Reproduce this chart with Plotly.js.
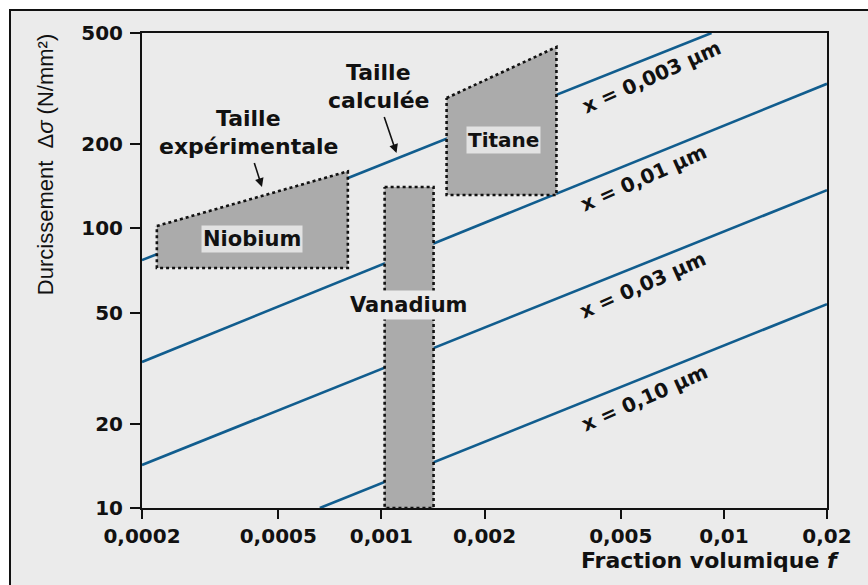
<!DOCTYPE html>
<html>
<head>
<meta charset="utf-8">
<script src="https://cdn.plot.ly/plotly-3.0.1.min.js"></script>
<style>
  html, body { margin: 0; padding: 0; background: #ffffff; }
  #frame { position: absolute; left: 9px; top: 9px; width: 870px; height: 590px;
           border-top: 2.5px solid #111; border-left: 2.5px solid #111; background: #ebebeb; }
  #plot { position: absolute; left: 0; top: 0; width: 868px; height: 585px; }
</style>
</head>
<body>
<div id="frame"></div>
<div id="plot"></div>
<script>
// ---- data ----
const lineNames = ["x = 0,003 µm", "x = 0,01 µm", "x = 0,03 µm", "x = 0,10 µm"];
const line003F = [0.0002, 0.0092];
const line003Y = [77, 500];
const line001F = [0.0002, 0.02];
const line001Y = [33.3, 329];
const line03F = [0.0002, 0.02];
const line03Y = [14.25, 137];
const line10F = [0.000661, 0.02];
const line10Y = [10, 53.6];

const niobiumF = [0.000221, 0.000798, 0.000798, 0.000221, 0.000221];
const niobiumY = [102, 160, 72.2, 72.2, 102];
const vanadiumF = [0.001022, 0.00142, 0.00142, 0.001022, 0.001022];
const vanadiumY = [140.6, 140.6, 10, 10, 140.6];
const titaneF = [0.00155, 0.003244, 0.003244, 0.00155, 0.00155];
const titaneY = [292.7, 445.5, 131.7, 131.7, 292.7];

const xTickVals = [0.0002, 0.0005, 0.001, 0.002, 0.005, 0.01, 0.02];
const xTickText = ["0,0002", "0,0005", "0,001", "0,002", "0,005", "0,01", "0,02"];
const yTickVals = [10, 20, 50, 100, 200, 500];
const yTickText = ["10", "20", "50", "100", "200", "500"];

// ---- styles ----
const lineColor = "#115d8e";
const boxFill = "#ababab";
const FONT = "DejaVu Sans, Verdana, sans-serif";

function lineTrace(f, y, name) {
  return { type: "scatter", mode: "lines", x: f, y: y, name: name,
           line: { color: lineColor, width: 2.6 }, hoverinfo: "skip", showlegend: false };
}
function boxTrace(f, y, name) {
  return { type: "scatter", mode: "lines", x: f, y: y, name: name, fill: "toself",
           fillcolor: boxFill, line: { color: "#111", width: 2.6, dash: "dot" },
           hoverinfo: "skip", showlegend: false };
}

const traces = [
  lineTrace(line003F, line003Y, lineNames[0]),
  lineTrace(line001F, line001Y, lineNames[1]),
  lineTrace(line03F, line03Y, lineNames[2]),
  lineTrace(line10F, line10Y, lineNames[3]),
  boxTrace(niobiumF, niobiumY, "Niobium"),
  boxTrace(vanadiumF, vanadiumY, "Vanadium"),
  boxTrace(titaneF, titaneY, "Titane")
];

const L = Math.log10;
const boldFont = (s) => ({ family: FONT, size: s, color: "#111", weight: "bold" });
const arrowStyle = { arrowhead: 2, arrowsize: 1.1, arrowwidth: 1.6, arrowcolor: "#111",
                     standoff: 0, startstandoff: 3 };

const annotations = [
  { x: L(0.00042), y: L(91.6), text: "Niobium", showarrow: false, font: boldFont(21),
    bgcolor: "#e2e2e2", borderpad: 1 },
  { x: L(0.00227), y: L(207), text: "Titane", showarrow: false, font: boldFont(20),
    bgcolor: "#e2e2e2", borderpad: 1 },
  { x: L(0.0012), y: L(53.2), text: "Vanadium", showarrow: false, font: boldFont(21),
    bgcolor: "#ebebeb", borderpad: 2 },
  // "Taille expérimentale": first line, then second line carrying the arrow
  { x: L(0.000448), y: L(140.6), text: "Taille", showarrow: false,
    xshift: -13, yshift: 69, font: boldFont(22) },
  Object.assign({ x: L(0.000448), y: L(140.6), text: "expérimentale", showarrow: true,
    ax: -13, ay: -41, font: boldFont(22) }, arrowStyle),
  // "Taille calculée"
  { x: L(0.001107), y: L(186), text: "Taille", showarrow: false,
    xshift: -18, yshift: 81, font: boldFont(22) },
  Object.assign({ x: L(0.001107), y: L(186), text: "calculée", showarrow: true,
    ax: -18, ay: -53, font: boldFont(22) }, arrowStyle),
  { x: L(0.00614), y: L(347.5), text: lineNames[0], showarrow: false,
    textangle: -24, font: boldFont(20) },
  { x: L(0.00582), y: L(151), text: lineNames[1], showarrow: false,
    textangle: -24, font: boldFont(20) },
  { x: L(0.00578), y: L(62.8), text: lineNames[2], showarrow: false,
    textangle: -24, font: boldFont(20) },
  { x: L(0.00586), y: L(24.7), text: lineNames[3], showarrow: false,
    textangle: -24, font: boldFont(20) },
  { xref: "paper", yref: "paper", x: 1, y: 0, xanchor: "right", yanchor: "middle",
    xshift: 14, yshift: -52, showarrow: false,
    text: "Fraction volumique <i>f</i>", font: boldFont(22) },
  { xref: "paper", yref: "paper", x: -0.1414, y: 0.722, xanchor: "center", yanchor: "middle",
    textangle: -90, showarrow: false,
    text: "Durcissement  Δ<i>σ</i> (N/mm²)",
    font: { family: "Liberation Sans, Arial, sans-serif", size: 22, color: "#111" } }
];

const layout = {
  width: 868, height: 585,
  margin: { l: 142, r: 41, t: 33, b: 77 },
  paper_bgcolor: "rgba(0,0,0,0)",
  plot_bgcolor: "#ebebeb",
  showlegend: false,
  xaxis: {
    type: "log", range: [L(0.0002), L(0.02)],
    tickvals: xTickVals, ticktext: xTickText,
    ticks: "outside", ticklen: 9, tickwidth: 2, tickcolor: "#111",
    showline: true, linecolor: "#111", linewidth: 2, mirror: true,
    showgrid: false, zeroline: false,
    tickfont: boldFont(20)
  },
  yaxis: {
    type: "log", range: [L(10), L(500)],
    tickvals: yTickVals, ticktext: yTickText,
    ticks: "outside", ticklen: 10, tickwidth: 2, tickcolor: "#111",
    showline: true, linecolor: "#111", linewidth: 2, mirror: true,
    showgrid: false, zeroline: false,
    tickfont: boldFont(20), ticklabelstandoff: 3
  },
  annotations: annotations
};

Plotly.newPlot("plot", traces, layout, { staticPlot: true, displayModeBar: false })
  .then(function (gd) {
    gd.querySelectorAll("text").forEach(function (t) {
      if (!t.textContent || !t.textContent.trim()) t.remove();
    });
  });
</script>
</body>
</html>
